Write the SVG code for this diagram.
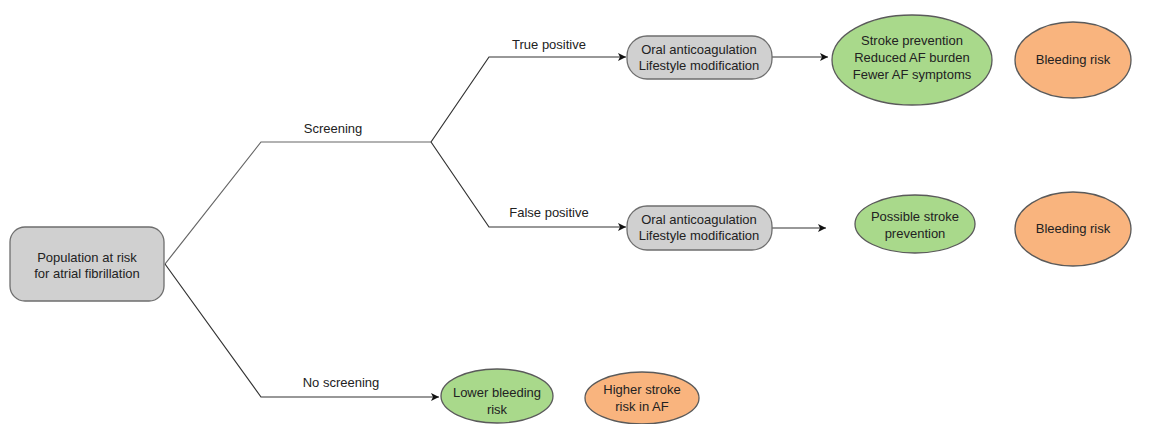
<svg xmlns="http://www.w3.org/2000/svg" width="1161" height="424" viewBox="0 0 1161 424">
<defs>
<marker id="arr" viewBox="0 0 10 10" refX="10" refY="5" markerWidth="10" markerHeight="8" markerUnits="userSpaceOnUse" orient="auto">
<path d="M0,0 L10,5 L0,10 L2.5,5 Z" fill="#111"/>
</marker>
<style>
text{font-family:"Liberation Sans",Arial,sans-serif;font-size:13px;fill:#222;text-anchor:middle}
.gray{fill:#d0d0d0;stroke:#6e6e6e;stroke-width:1.3}
.green{fill:#a9d98b;stroke:#5a5a5a;stroke-width:1.3}
.orange{fill:#f9b47e;stroke:#5a5a5a;stroke-width:1.3}
.ln{fill:none;stroke:#666;stroke-width:1.2}
.ar{fill:none;stroke:#333;stroke-width:1.2;marker-end:url(#arr)}
</style>
</defs>
<rect width="1161" height="424" fill="#fff"/>
<g id="connectors">
<polyline class="ln" points="165,264 261,142 431,142"/>
<polyline class="ar" points="431,142 489,57 626,57"/>
<polyline class="ar" points="431,142 489,227 626,227"/>
<polyline class="ar" points="165,264 261,397 439,397"/>
<line class="ar" x1="772" y1="57" x2="828" y2="57"/>
<line class="ar" x1="772" y1="228" x2="826" y2="228"/>
<text x="333" y="133">Screening</text>
<text x="549" y="49">True positive</text>
<text x="549" y="217">False positive</text>
<text x="341" y="387">No screening</text>
</g>
<g id="population">
<rect class="gray" x="10" y="227" width="154" height="74" rx="15"/>
<text x="87" y="262">Population at risk</text>
<text x="87" y="278">for atrial fibrillation</text>
</g>
<g id="oac-true">
<rect class="gray" x="627" y="36" width="145" height="43" rx="20"/>
<text x="699" y="54">Oral anticoagulation</text>
<text x="699" y="70">Lifestyle modification</text>
</g>
<g id="benefit-true">
<ellipse class="green" cx="912" cy="60" rx="80" ry="45"/>
<text x="912" y="45">Stroke prevention</text>
<text x="912" y="62">Reduced AF burden</text>
<text x="912" y="79">Fewer AF symptoms</text>
</g>
<g id="bleeding-true">
<ellipse class="orange" cx="1073" cy="60" rx="58" ry="38"/>
<text x="1073" y="64">Bleeding risk</text>
</g>
<g id="oac-false">
<rect class="gray" x="627" y="206" width="145" height="44" rx="20"/>
<text x="699" y="224">Oral anticoagulation</text>
<text x="699" y="240">Lifestyle modification</text>
</g>
<g id="benefit-false">
<ellipse class="green" cx="915" cy="224" rx="60" ry="29"/>
<text x="915" y="221">Possible stroke</text>
<text x="915" y="238">prevention</text>
</g>
<g id="bleeding-false">
<ellipse class="orange" cx="1073" cy="229" rx="58" ry="37"/>
<text x="1073" y="233">Bleeding risk</text>
</g>
<g id="lower-bleeding">
<ellipse class="green" cx="497" cy="396" rx="56" ry="27"/>
<text x="497" y="397">Lower bleeding</text>
<text x="497" y="414">risk</text>
</g>
<g id="higher-stroke">
<ellipse class="orange" cx="642" cy="398" rx="57" ry="26"/>
<text x="642" y="394">Higher stroke</text>
<text x="642" y="411">risk in AF</text>
</g>
</svg>
